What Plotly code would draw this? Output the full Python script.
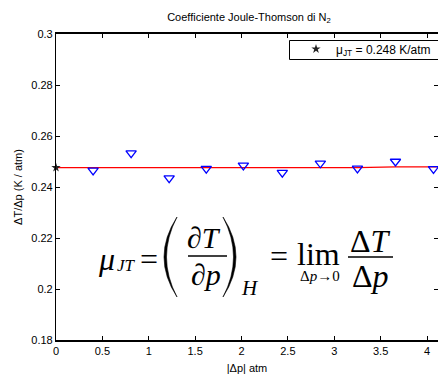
import plotly.graph_objects as go

# ---- data ----
dp_abs = [0.40, 0.81, 1.22, 1.62, 2.02, 2.44, 2.85, 3.25, 3.66, 4.07]
dT_dp = [0.2465, 0.2533, 0.2435, 0.2472, 0.2485, 0.2456, 0.2493, 0.2473, 0.2500, 0.2471]
fit_x = [0.0, 3.25, 3.66, 4.12]
fit_y = [0.2476, 0.2476, 0.2479, 0.2479]
mu_x = [0.0]
mu_y = [0.2476]
mu_label = "μ<sub>JT</sub> = 0.248 K/atm"
x_ticks = [0, 0.5, 1, 1.5, 2, 2.5, 3, 3.5, 4]
y_ticks = [0.18, 0.2, 0.22, 0.24, 0.26, 0.28, 0.3]

W, H = 438, 375
L, R, T, B = 56, 0, 34, 35
PW, PH = W - L - R, H - T - B


def px(x):
    return (x - L) / PW


def py(y):
    return (H - B - y) / PH


fig = go.Figure()
fig.add_trace(go.Scatter(x=fit_x, y=fit_y, mode="lines",
                         line=dict(color="red", width=1.2), showlegend=False))
fig.add_trace(go.Scatter(x=dp_abs, y=dT_dp, mode="markers",
                         marker=dict(symbol="triangle-down-open", size=9,
                                     color="blue", line=dict(width=1.3, color="blue")),
                         showlegend=False))
fig.add_trace(go.Scatter(x=mu_x, y=mu_y, mode="markers", name=mu_label,
                         marker=dict(symbol="star", size=7, color="#222"),
                         cliponaxis=False))

SERIF = "Liberation Serif"
ann = []


def txt(s, xc, yc, size, italic=False):
    if italic:
        s = "<i>" + s + "</i>"
    ann.append(dict(text=s, x=px(xc), y=py(yc), xref="paper", yref="paper",
                    xanchor="center", yanchor="middle", showarrow=False,
                    font=dict(family=SERIF, size=size, color="black")))


txt("μ", 106, 259.2, 32, True)
txt("JT", 126.5, 265.3, 17, True)
txt("=", 149, 259.2, 32)
txt("∂<i>T</i>", 204, 237, 30)
txt("∂<i>p</i>", 206, 274.5, 30)
txt("H", 250, 287.9, 21, True)
txt("=", 279, 256.2, 32)
txt("lim", 318.5, 254.2, 32)
txt("Δ<i>p</i>→0", 319.5, 276, 15)
txt("Δ<i>T</i>", 370.5, 241.2, 32)
txt("Δ<i>p</i>", 370, 276.2, 32)

shapes = []


def hline(x0, x1, y):
    shapes.append(dict(type="line", xref="paper", yref="paper",
                       x0=px(x0), x1=px(x1), y0=py(y), y1=py(y),
                       line=dict(color="black", width=1.5)))


def paren(xe, top, bot, outer, inner):
    # crescent-shaped parenthesis
    ox = 2 * outer - xe
    ix = 2 * inner - xe
    mid = (top + bot) / 2
    p = (f"M {px(xe)},{py(top)} Q {px(ox)},{py(mid)} {px(xe)},{py(bot)} "
         f"Q {px(ix)},{py(mid)} {px(xe)},{py(top)} Z")
    shapes.append(dict(type="path", xref="paper", yref="paper", path=p,
                       fillcolor="black", line=dict(color="black", width=0.6)))


hline(188, 227, 256)
hline(348, 393, 257)
paren(177, 217, 297, 164, 166.5)
paren(223, 217, 297, 236, 233.5)

# legend frame (extends past the right edge as in the reference)
shapes.append(dict(type="rect", xref="paper", yref="paper",
                   x0=px(289.5), x1=px(450), y0=py(40.5), y1=py(59.5),
                   line=dict(color="black", width=1), fillcolor="white", layer="above"))

fig.update_layout(
    width=W, height=H,
    margin=dict(l=L, r=R, t=T, b=B, autoexpand=False),
    plot_bgcolor="white", paper_bgcolor="white",
    font=dict(family="Liberation Sans, Arial", size=11, color="black"),
    title=dict(text="Coefficiente Joule-Thomson di N<sub>2</sub>",
               x=249 / W, xanchor="center", xref="container",
               y=1 - 17 / H, yanchor="middle", yref="container",
               font=dict(size=11)),
    xaxis=dict(range=[0, (W - L - R) / 92.75], tickvals=x_ticks,
               ticks="inside", ticklen=4, tickwidth=1, tickcolor="black",
               showline=True, linecolor="black", linewidth=2, mirror="ticks",
               showgrid=False, zeroline=False,
               title=dict(text="|Δp| atm", standoff=8, font=dict(size=11))),
    yaxis=dict(range=[0.18, 0.3], tickvals=y_ticks,
               ticks="inside", ticklen=4, tickwidth=1, tickcolor="black",
               showline=True, linecolor="black", linewidth=1.2, mirror="ticks",
               showgrid=False, zeroline=False,
               title=dict(text="ΔT/Δp (K / atm)", standoff=6, font=dict(size=11))),
    legend=dict(x=px(296), y=py(34.5), xanchor="left", yanchor="top",
                bgcolor="rgba(0,0,0,0)", borderwidth=0,
                font=dict(size=12), tracegroupgap=0),
    annotations=ann, shapes=shapes,
)

fig.write_html("out.html", config={"displayModeBar": False},
               post_script="document.body.style.margin='0';document.body.style.overflow='hidden';")
